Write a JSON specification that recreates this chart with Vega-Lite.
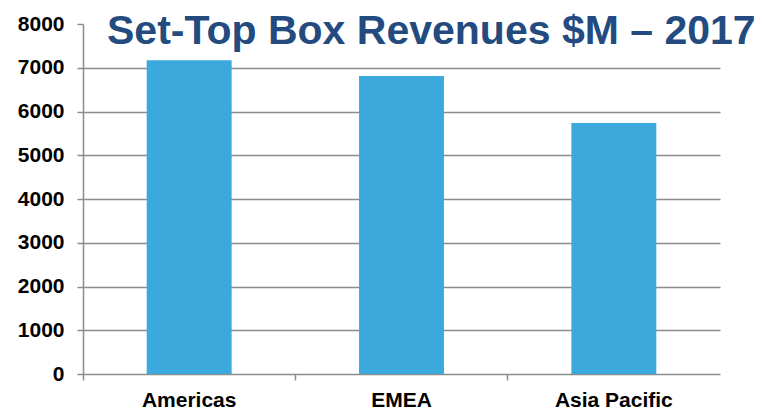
{
  "$schema": "https://vega.github.io/schema/vega-lite/v6.json",
  "autosize": "none",
  "padding": {"left": 83, "top": 24, "right": 42, "bottom": 39},
  "width": 637,
  "height": 350,
  "background": "white",
  "title": {
    "text": "Set-Top Box Revenues $M – 2017",
    "font": "Liberation Sans",
    "fontSize": 41,
    "fontWeight": "bold",
    "color": "#234B80",
    "anchor": "start",
    "frame": "group",
    "baseline": "alphabetic",
    "dx": 24,
    "offset": -72
  },
  "data": {
    "values": [
      {"region": "Americas", "revenue": 7170},
      {"region": "EMEA", "revenue": 6810},
      {"region": "Asia Pacific", "revenue": 5740}
    ]
  },
  "mark": {"type": "bar", "color": "#3BA9DC", "width": {"band": 0.4}},
  "encoding": {
    "x": {
      "field": "region",
      "type": "nominal",
      "sort": null,
      "title": null,
      "scale": {"paddingInner": 0, "paddingOuter": 0},
      "axis": {
        "labelAngle": 0,
        "labelFont": "Liberation Sans",
        "labelFontSize": 21,
        "labelFontWeight": "bold",
        "labelColor": "#000000",
        "labelPadding": 9,
        "bandPosition": 0,
        "domainColor": "#8c8c8c",
        "domainWidth": 1.5,
        "tickColor": "#8c8c8c",
        "tickWidth": 1.5,
        "tickSize": 6,
        "grid": false
      }
    },
    "y": {
      "field": "revenue",
      "type": "quantitative",
      "title": null,
      "scale": {"domain": [0, 8000], "nice": false},
      "axis": {
        "values": [0, 1000, 2000, 3000, 4000, 5000, 6000, 7000, 8000],
        "format": "d",
        "labelFont": "Liberation Sans",
        "labelFontSize": 21,
        "labelFontWeight": "bold",
        "labelColor": "#000000",
        "labelPadding": 13,
        "domainColor": "#8c8c8c",
        "domainWidth": 1.5,
        "tickColor": "#8c8c8c",
        "tickWidth": 1.5,
        "tickSize": 6,
        "grid": true,
        "gridColor": "#8c8c8c",
        "gridWidth": 1.5,
        "gridOpacity": {"condition": {"test": "datum.value >= 8000 || datum.value <= 0", "value": 0}, "value": 1}
      }
    }
  },
  "config": {"view": {"stroke": null}}
}
